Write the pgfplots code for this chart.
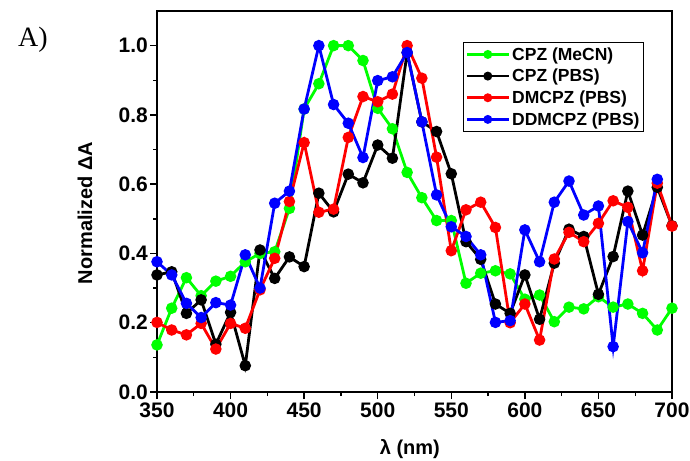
\documentclass[border=0pt]{standalone}
\usepackage{pgfplots}
\pgfplotsset{compat=1.18}
\usepackage{fontspec}
\setmainfont{Liberation Sans}
\newfontfamily\timesfont{Liberation Serif}
\definecolor{cgreen}{RGB}{0,255,0}
\definecolor{cred}{RGB}{255,0,0}
\definecolor{cblue}{RGB}{0,0,255}
\begin{document}
\begin{tikzpicture}
\useasboundingbox (0,0) rectangle (690bp,461bp);
\node[anchor=west, inner sep=0pt, font=\timesfont\fontsize{28bp}{32bp}\selectfont] at (18bp,421bp) {A)};
\begin{axis}[
  at={(157bp,69bp)}, anchor=south west,
  scale only axis, width=515bp, height=381bp,
  xmin=350, xmax=700, ymin=0, ymax=1.1,
  xtick={350,400,...,700}, ytick={0,0.2,...,1.0},
  minor x tick num=1, minor y tick num=1,
  tick align=outside, xtick pos=bottom, ytick pos=left,
  major tick length=7bp, minor tick length=4bp,
  every tick/.style={black, line width=1.4bp},
  axis line style={line width=1.6bp},
  /pgf/number format/assume math mode=true,
  ticklabel style={font=\fontsize{21bp}{24bp}\selectfont\bfseries},
  yticklabel style={/pgf/number format/fixed, /pgf/number format/fixed zerofill, /pgf/number format/precision=1, inner sep=2bp},
  xticklabel style={/pgf/number format/1000 sep={}},
  xlabel={\bfseries λ (nm)}, ylabel={\bfseries Normalized ΔA},
  label style={font=\fontsize{20bp}{24bp}\selectfont},
  xlabel style={at={(axis description cs:0.491,-0.15)}, anchor=center},
  ylabel style={at={(axis description cs:-0.14,0.47)}, anchor=center},
  every axis plot/.append style={line width=2.8bp, mark=*, mark size=4.3bp},
  legend cell align=left,
  legend style={at={(axis description cs:0.594,0.919)}, anchor=north west,
    draw=black, line width=1bp, font=\fontsize{17.5bp}{20bp}\selectfont\bfseries,
    inner xsep=2bp, inner ysep=3bp, row sep=3.5bp},
  legend image code/.code={\draw[mark repeat=2,mark phase=2, mark size=3bp] plot coordinates {(0bp,0bp) (21bp,0bp) (42bp,0bp)};},
]
\addplot[cgreen] coordinates {
(350,0.136)(360,0.242)(370,0.33)(380,0.278)(390,0.32)(400,0.334)(410,0.376)(420,0.40)(430,0.405)(440,0.53)(450,0.817)(460,0.89)(470,1.0)(480,1.0)(490,0.957)(500,0.819)(510,0.76)(520,0.634)(530,0.561)(540,0.495)(550,0.495)(560,0.314)(570,0.343)(580,0.35)(590,0.341)(600,0.268)(610,0.28)(620,0.203)(630,0.245)(640,0.24)(650,0.275)(660,0.245)(670,0.254)(680,0.227)(690,0.179)(700,0.242)};
\addlegendentry{CPZ (MeCN)}
\addplot[black] coordinates {
(350,0.338)(360,0.347)(370,0.227)(380,0.266)(390,0.138)(400,0.23)(410,0.076)(420,0.41)(430,0.328)(440,0.39)(450,0.362)(460,0.574)(470,0.52)(480,0.629)(490,0.604)(500,0.713)(510,0.675)(520,0.98)(530,0.78)(540,0.752)(550,0.63)(560,0.434)(570,0.383)(580,0.254)(590,0.227)(600,0.338)(610,0.21)(620,0.372)(630,0.47)(640,0.449)(650,0.282)(660,0.391)(670,0.58)(680,0.453)(690,0.591)(700,0.48)};
\addlegendentry{CPZ (PBS)}
\addplot[cred] coordinates {
(350,0.201)(360,0.179)(370,0.165)(380,0.198)(390,0.124)(400,0.198)(410,0.184)(420,0.295)(430,0.386)(440,0.55)(450,0.72)(460,0.519)(470,0.528)(480,0.735)(490,0.853)(500,0.838)(510,0.86)(520,1.0)(530,0.906)(540,0.678)(550,0.408)(560,0.526)(570,0.548)(580,0.475)(590,0.20)(600,0.254)(610,0.15)(620,0.384)(630,0.461)(640,0.434)(650,0.487)(660,0.552)(670,0.533)(680,0.35)(690,0.603)(700,0.479)};
\addlegendentry{DMCPZ (PBS)}
\addplot[cblue] coordinates {
(350,0.376)(360,0.338)(370,0.256)(380,0.215)(390,0.258)(400,0.251)(410,0.396)(420,0.30)(430,0.545)(440,0.58)(450,0.817)(460,1.0)(470,0.83)(480,0.776)(490,0.677)(500,0.899)(510,0.91)(520,0.98)(530,0.78)(540,0.569)(550,0.477)(560,0.449)(570,0.396)(580,0.201)(590,0.206)(600,0.468)(610,0.376)(620,0.548)(630,0.609)(640,0.511)(650,0.537)(660,0.131)(670,0.492)(680,0.402)(690,0.614)};
\addlegendentry{DDMCPZ (PBS)}
\end{axis}
\end{tikzpicture}
\end{document}
